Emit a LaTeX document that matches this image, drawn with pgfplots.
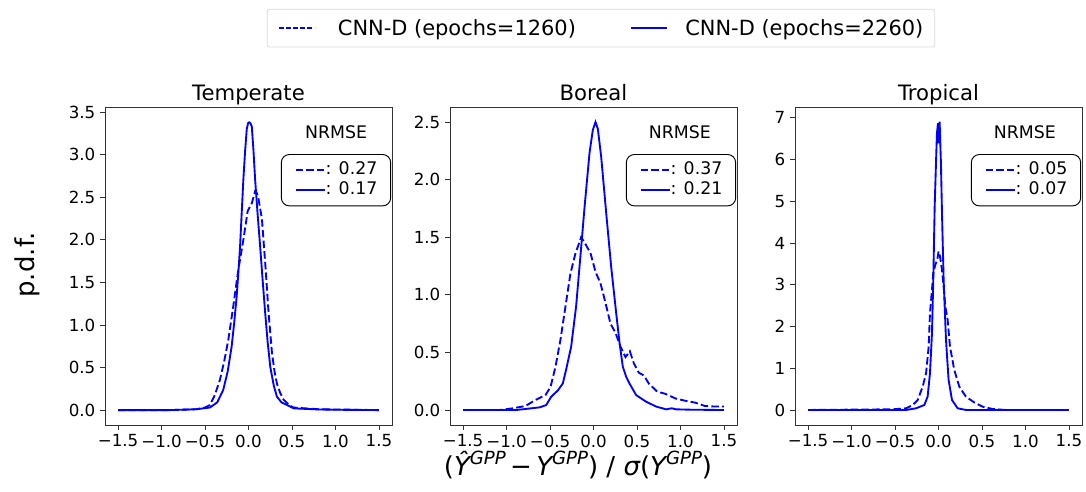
\documentclass[border=0pt]{standalone}
\usepackage{pgfplots}
\pgfplotsset{compat=1.18}
\usepackage{fontspec}
\setmainfont{DejaVu Sans}
\newfontfamily\dvo{DejaVu Sans Oblique}
\definecolor{pblue}{RGB}{0,0,255}

\pgfplotstableread{
x y
-1.5 0
-0.9 0
-0.6 0.01
-0.445 0.03
-0.36 0.09
-0.291 0.236
-0.24 0.45
-0.194 0.746
-0.165 1.02
-0.136 1.335
-0.115 1.64
-0.097 1.92
-0.078 2.32
-0.059 2.71
-0.040 3.03
-0.020 3.30
-0.005 3.37
0.007 3.38
0.022 3.37
0.038 3.33
0.057 3.05
0.076 2.71
0.105 2.30
0.134 1.92
0.163 1.52
0.192 1.14
0.22 0.80
0.25 0.51
0.29 0.29
0.327 0.157
0.38 0.09
0.443 0.06
0.52 0.02
0.8 0.008
1.0 0.004
1.5 0
}\tempsolid
\pgfplotstableread{
x y
-1.5 0
-0.9 0
-0.6 0.01
-0.5 0.03
-0.445 0.06
-0.39 0.17
-0.33 0.35
-0.28 0.57
-0.233 0.82
-0.175 1.22
-0.117 1.65
-0.059 2.0
-0.009 2.34
0.038 2.43
0.076 2.57
0.095 2.55
0.115 2.48
0.154 2.25
0.192 1.73
0.231 1.14
0.27 0.67
0.3 0.45
0.327 0.31
0.365 0.2
0.405 0.12
0.48 0.05
0.52 0.03
0.8 0.01
1.5 0
}\tempdash
\pgfplotstableread{
x y
-1.5 0
-0.889 0
-0.62 0.023
-0.544 0.043
-0.487 0.115
-0.41 0.17
-0.353 0.23
-0.315 0.35
-0.257 0.55
-0.2 0.90
-0.142 1.41
-0.103 1.76
-0.046 2.23
-0.008 2.43
0.023 2.50
0.05 2.44
0.088 2.20
0.146 1.71
0.203 1.244
0.261 0.84
0.3 0.58
0.337 0.376
0.375 0.29
0.414 0.23
0.49 0.13
0.605 0.072
0.72 0.03
0.835 0.006
0.9 0.015
0.95 0.006
1.1 0.003
1.5 0
}\borsolid
\pgfplotstableread{
x y
-1.5 0
-1.08 0
-0.935 0.014
-0.782 0.035
-0.667 0.087
-0.552 0.13
-0.494 0.20
-0.437 0.376
-0.38 0.61
-0.322 0.90
-0.265 1.186
-0.207 1.36
-0.142 1.50
-0.092 1.44
-0.034 1.36
0.023 1.20
0.08 1.10
0.138 0.93
0.195 0.75
0.253 0.67
0.31 0.55
0.368 0.46
0.418 0.51
0.464 0.405
0.521 0.324
0.579 0.30
0.636 0.23
0.732 0.16
0.828 0.14
0.943 0.10
1.057 0.08
1.17 0.064
1.28 0.035
1.40 0.03
1.5 0.03
}\bordash
\pgfplotstableread{
x y
-1.5 0
-0.373 0
-0.258 0.04
-0.163 0.12
-0.125 0.32
-0.098 0.88
-0.075 1.84
-0.06 3.12
-0.044 4.88
-0.029 5.91
-0.018 6.63
-0.006 6.87
0.001 6.39
0.013 6.91
0.028 5.91
0.04 4.72
0.059 3.12
0.086 1.68
0.116 0.72
0.155 0.24
0.22 0.04
0.315 0
1.5 0
}\tropsolid
\pgfplotstableread{
x y
-1.5 0
-0.526 0.016
-0.373 0.04
-0.296 0.12
-0.239 0.24
-0.182 0.56
-0.143 0.88
-0.113 1.52
-0.098 2.32
-0.075 2.88
-0.06 3.28
-0.037 3.48
-0.014 3.6
0.001 3.8
0.017 3.68
0.04 3.36
0.059 2.96
0.078 2.48
0.105 2.16
0.132 1.52
0.181 0.96
0.239 0.56
0.315 0.32
0.411 0.18
0.506 0.08
0.621 0.024
0.773 0
1.5 0
}\tropdash

\pgfplotsset{
  pdfax/.style={
    scale only axis, width=215.25pt, height=238.5pt,
    xmin=-1.65, xmax=1.65,
    axis line style={draw=black!80, line width=0.6pt},
    tick align=outside, major tick length=3.75pt,
    xtick pos=bottom, ytick pos=left,
    tick style={black!80, line width=0.6pt},
    xtick={-1.5,-1,-0.5,0,0.5,1,1.5},
    xticklabels={−1.5,−1.0,−0.5,0.0,0.5,1.0,1.5},
    tick label style={font=\fontsize{12.5pt}{14pt}\selectfont},
    title style={font=\fontsize{15.9pt}{18pt}\selectfont, at={(0.5,1)}, anchor=base, yshift=-1.5pt},
    /pgf/number format/assume math mode=true,
    legend style={
      at={(0.997,0.852)}, anchor=north east,
      draw=black, rounded corners=6pt, line width=0.7pt,
      font=\fontsize{13pt}{15pt}\selectfont,
      inner xsep=10pt, inner ysep=5.5pt,
      row sep=2.5pt,
      nodes={inner xsep=0pt, inner ysep=0pt, text height=9.5pt, text depth=3pt},
    },
    legend cell align=left,
    legend image code/.code={\draw[#1, line width=1.4pt] (0pt,0pt) -- (21.75pt,0pt);},
  },
  sol/.style={pblue, line width=1.4pt},
  dsh/.style={pblue, line width=1.4pt, dash pattern=on 5.6pt off 2.4pt},
}

\begin{document}
\begin{tikzpicture}
\useasboundingbox (0,0) rectangle (814.5pt,369pt);

\begin{axis}[pdfax, at={(78.75pt,50.25pt)}, anchor=south west,
  title={Temperate}, ymin=-0.175, ymax=3.56,
  ytick={0,0.5,1,1.5,2,2.5,3,3.5},
  yticklabels={0.0,0.5,1.0,1.5,2.0,2.5,3.0,3.5}]
\addplot[dsh] table {\tempdash};
\addplot[sol] table {\tempsolid};
\legend{: 0.27\hspace{4pt},: 0.17\hspace{4pt}}
\node[font=\fontsize{13pt}{15pt}\selectfont] at (axis description cs:0.805,0.921) {NRMSE};
\end{axis}

\begin{axis}[pdfax, at={(337.5pt,50.25pt)}, anchor=south west,
  title={Boreal}, ymin=-0.13, ymax=2.63,
  ytick={0,0.5,1,1.5,2,2.5},
  yticklabels={0.0,0.5,1.0,1.5,2.0,2.5}]
\addplot[dsh] table {\bordash};
\addplot[sol] table {\borsolid};
\legend{: 0.37\hspace{4pt},: 0.21\hspace{4pt}}
\node[font=\fontsize{13pt}{15pt}\selectfont] at (axis description cs:0.801,0.921) {NRMSE};
\end{axis}

\begin{axis}[pdfax, at={(596.25pt,50.25pt)}, anchor=south west,
  title={Tropical}, ymin=-0.36, ymax=7.26,
  ytick={0,1,2,3,4,5,6,7},
  yticklabels={0,1,2,3,4,5,6,7}]
\addplot[dsh] table {\tropdash};
\addplot[sol] table {\tropsolid};
\legend{: 0.05\hspace{4pt},: 0.07\hspace{4pt}}
\node[font=\fontsize{13pt}{15pt}\selectfont] at (axis description cs:0.801,0.921) {NRMSE};
\end{axis}

% shared legend through an invisible axis
\begin{axis}[scale only axis, width=215.25pt, height=238.5pt,
  at={(337.5pt,50.25pt)}, anchor=south west,
  hide axis, xmin=0, xmax=1, ymin=0, ymax=1,
  legend columns=2,
  legend style={at={(0.526,1.248)}, anchor=center,
    draw=black!15, rounded corners=2pt, line width=0.6pt,
    font=\fontsize{15.7pt}{18pt}\selectfont,
    inner xsep=8.5pt, inner ysep=5.5pt,
    nodes={inner xsep=0pt},
    /tikz/every odd column/.append style={column sep=0pt},
    /tikz/every even column/.append style={column sep=41pt}},
  legend image code/.code={\draw[#1] (0pt,0pt) -- (26.5pt,0pt);},
  legend cell align=left]
\addlegendimage{pblue, line width=1pt, dash pattern=on 3.7pt off 1.6pt}
\addlegendentry{\hspace{17pt}CNN-D (epochs=1260)}
\addlegendimage{pblue, line width=1pt}
\addlegendentry{\hspace{13.5pt}CNN-D (epochs=2260)}
\end{axis}

\node[rotate=90, font=\fontsize{19.5pt}{22pt}\selectfont] at (20.25pt,170.25pt) {p.d.f.};
\node[font=\fontsize{19.5pt}{22pt}\selectfont, inner sep=0pt] at (433.5pt,20.25pt)
  {({\dvo Ŷ}\raisebox{0.42em}{\fontsize{13.6pt}{14pt}\dvo GPP}\,−\,{\dvo Y}\raisebox{0.42em}{\fontsize{13.6pt}{14pt}\dvo GPP}) / {\dvo σ}({\dvo Y}\raisebox{0.42em}{\fontsize{13.6pt}{14pt}\dvo GPP})};
\end{tikzpicture}
\end{document}
